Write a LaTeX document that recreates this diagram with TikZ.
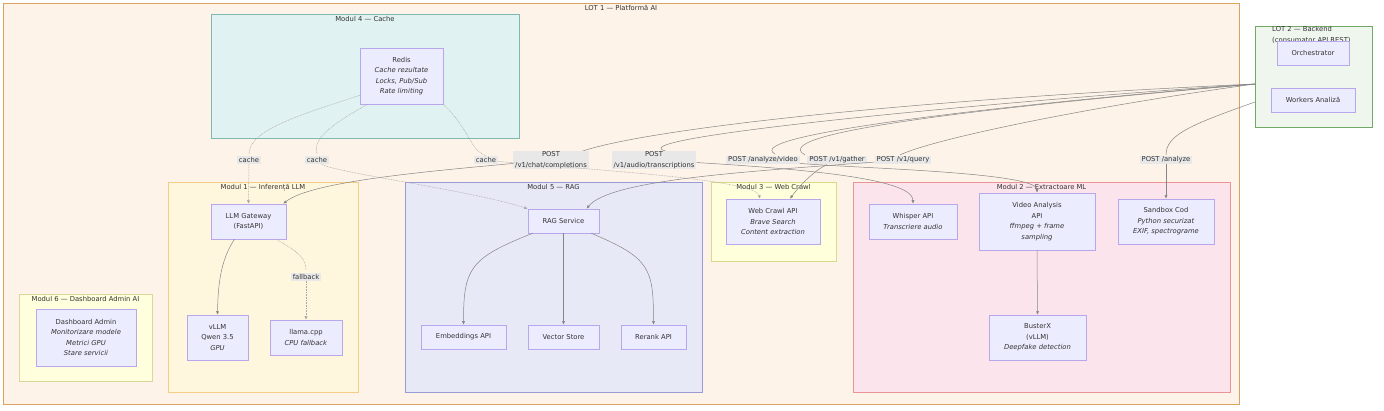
\documentclass[tikz,border=0pt]{standalone}
\usepackage{fontspec}
\setmainfont{DejaVu Sans}
\usepackage{xcolor}
\usetikzlibrary{arrows.meta}

\definecolor{txt}{HTML}{333333}
\definecolor{nodefill}{HTML}{ECECFF}
\definecolor{nodeline}{HTML}{B9A7EE}
\definecolor{lblfill}{HTML}{E8E8E8}
\definecolor{edgecol}{HTML}{858585}
\definecolor{dotcol}{HTML}{A8A8A8}
\definecolor{lotaline}{HTML}{D9A35F}\definecolor{lotafill}{HTML}{FDF3E8}
\definecolor{lotbline}{HTML}{72A866}\definecolor{lotbfill}{HTML}{EFF6EE}
\definecolor{cacheline}{HTML}{7DB9AF}\definecolor{cachefill}{HTML}{E0F2F1}
\definecolor{llmline}{HTML}{F6CD84}\definecolor{llmfill}{HTML}{FFF6DE}
\definecolor{adminline}{HTML}{D8D89A}\definecolor{adminfill}{HTML}{FFFFDE}
\definecolor{ragline}{HTML}{9A9AD6}\definecolor{ragfill}{HTML}{E8E9F6}
\definecolor{crawlline}{HTML}{D9D98A}\definecolor{crawlfill}{HTML}{FFFFDC}
\definecolor{mlline}{HTML}{E99595}\definecolor{mlfill}{HTML}{FCE4EC}

\tikzset{
  cluster/.style 2 args={draw=#1, fill=#2, line width=0.6pt, inner sep=0pt},
  ctitle/.style={anchor=north, inner sep=1pt},
  box/.style={draw=nodeline, fill=nodefill, line width=0.5pt, align=center, inner sep=1pt},
  lbl/.style={fill=lblfill, inner xsep=2pt, inner ysep=1pt, align=center},
  edge/.style={draw=edgecol, line width=0.5pt, -{Latex[length=3.5pt,width=3pt]}},
  link/.style={draw=edgecol, line width=0.5pt},
  dotedge/.style={edge, draw=dotcol, dash pattern=on 0.8pt off 0.8pt},
  dotlink/.style={link, draw=dotcol, dash pattern=on 0.8pt off 0.8pt}
}

\begin{document}
\begin{tikzpicture}[x=1pt, y=-1pt, font=\fontsize{6.8}{10.5}\selectfont, text=txt]
  \useasboundingbox (0,0) rectangle (1384,411);

  % groups
  \node[cluster={lotaline}{lotafill}, minimum width=1236pt, minimum height=401pt] (lot1) at (621,203.5) {};
  \node[ctitle] (lot1t) at ([yshift=-1pt]lot1.north) {LOT 1 — Platformă AI};
  \node[cluster={lotbline}{lotbfill}, minimum width=117pt, minimum height=101pt] (lot2) at (1313.5,76.5) {};
  \node[anchor=north west, inner sep=0pt, align=left, font=\fontsize{6.8}{11}\selectfont] (lot2t) at (1272,26.5) {LOT 2 — Backend\\(consumator API REST)};

  \node[cluster={cacheline}{cachefill}, minimum width=308pt, minimum height=124pt] (m4) at (365,76) {};
  \node[ctitle] (m4t) at ([yshift=-1pt]m4.north) {Modul 4 — Cache};
  \node[cluster={llmline}{llmfill}, minimum width=190pt, minimum height=210pt] (m1) at (263,287) {};
  \node[ctitle] (m1t) at ([yshift=-1pt]m1.north) {Modul 1 — Inferență LLM};
  \node[cluster={adminline}{adminfill}, minimum width=133pt, minimum height=87pt] (m6) at (85.5,337.5) {};
  \node[ctitle] (m6t) at ([yshift=-1pt]m6.north) {Modul 6 — Dashboard Admin AI};
  \node[cluster={ragline}{ragfill}, minimum width=297pt, minimum height=210pt] (m5) at (553.5,287) {};
  \node[ctitle] (m5t) at ([yshift=-1pt]m5.north) {Modul 5 — RAG};
  \node[cluster={crawlline}{crawlfill}, minimum width=125pt, minimum height=79pt] (m3) at (773.5,221.5) {};
  \node[ctitle] (m3t) at ([yshift=-1pt]m3.north) {Modul 3 — Web Crawl};
  \node[cluster={mlline}{mlfill}, minimum width=377pt, minimum height=210pt] (m2) at (1041.5,287) {};
  \node[ctitle] (m2t) at ([yshift=-1pt]m2.north) {Modul 2 — Extractoare ML};

  % services
  \node[box, minimum width=72pt, minimum height=24pt] (orch) at (1313,53) {Orchestrator};
  \node[box, minimum width=84pt, minimum height=24pt] (workers) at (1313,100) {Workers Analiză};
  \node[box, minimum width=83pt, minimum height=56pt] (redis) at (401.5,76) {Redis\\\textit{Cache rezultate}\\\textit{Locks, Pub/Sub}\\\textit{Rate limiting}};
  \node[box, minimum width=75pt, minimum height=35pt] (gw) at (248.5,221.5) {LLM Gateway\\(FastAPI)};
  \node[box, minimum width=61pt, minimum height=45pt] (vllm) at (217.5,337.5) {vLLM\\Qwen 3.5\\\textit{GPU}};
  \node[box, minimum width=72pt, minimum height=35pt] (llama) at (306,337.5) {llama.cpp\\\textit{CPU fallback}};
  \node[box, minimum width=100pt, minimum height=57pt] (dash) at (86,337.5) {Dashboard Admin\\\textit{Monitorizare modele}\\\textit{Metrici GPU}\\\textit{Stare servicii}};
  \node[box, minimum width=71pt, minimum height=24pt] (rag) at (563.5,221) {RAG Service};
  \node[box, minimum width=85pt, minimum height=24pt] (emb) at (463.5,337) {Embeddings API};
  \node[box, minimum width=71pt, minimum height=24pt] (vec) at (563.5,337) {Vector Store};
  \node[box, minimum width=65pt, minimum height=24pt] (rerank) at (653.5,337) {Rerank API};
  \node[box, minimum width=94pt, minimum height=45pt] (crawl) at (773,221.5) {Web Crawl API\\\textit{Brave Search}\\\textit{Content extraction}};
  \node[box, minimum width=88pt, minimum height=35pt] (whisper) at (913,221.5) {Whisper API\\\textit{Transcriere audio}};
  \node[box, minimum width=116pt, minimum height=57pt] (video) at (1037,221.5) {Video Analysis\\API\\\textit{ffmpeg + frame}\\\textit{sampling}};
  \node[box, minimum width=96pt, minimum height=45pt] (sandbox) at (1166,221.5) {Sandbox Cod\\\textit{Python securizat}\\\textit{EXIF, spectrograme}};
  \node[box, minimum width=97pt, minimum height=45pt] (buster) at (1037.5,337.5) {BusterX\\(vLLM)\\\textit{Deepfake detection}};

  \coordinate (orchout) at (1255,84);
  \coordinate (workout) at (1255,102);

  % backend calls
  \draw[link] (orchout) .. controls (900,100) and (640,130) .. (580,152);
  \draw[link] (orchout) .. controls (950,105) and (600,140) .. (670,152);
  \draw[link] (orchout) .. controls (1000,105) and (740,135) .. (775,154);
  \draw[link] (orchout) .. controls (1050,102) and (760,130) .. (805,155);
  \draw[link] (orchout) .. controls (1080,108) and (930,140) .. (900,155);
  \draw[link] (workout) .. controls (1190,125) and (1166,135) .. (1166,155);
  \node[lbl] (lchat) at (551,160) {POST\\/v1/chat/completions};
  \node[lbl] (laudio) at (654,160) {POST\\/v1/audio/transcriptions};
  \node[lbl] (lvideo) at (763,160) {POST /analyze/video};
  \node[lbl] (lgather) at (837,160) {POST /v1/gather};
  \node[lbl] (lquery) at (903,160) {POST /v1/query};
  \node[lbl] (lanalyze) at (1166,160) {POST /analyze};
  \draw[edge] (lchat) .. controls (420,172) and (310,182) .. ([xshift=-3pt]gw.north east);
  \draw[edge] (laudio) .. controls (820,170) and (913,180) .. (whisper.north);
  \draw[edge] (lvideo) .. controls (850,168) and (1037,172) .. (video.north);
  \draw[edge] (lgather) .. controls (815,170) and (800,185) .. ([xshift=17pt]crawl.north);
  \draw[edge] (lquery) .. controls (740,172) and (610,180) .. ([xshift=23pt]rag.north);
  \draw[edge] (lanalyze) -- (sandbox.north);

  % cache
  \draw[dotlink] ([yshift=9pt]redis.south west) .. controls (300,115) and (249,130) .. (249,154);
  \draw[dotlink] ([xshift=8pt]redis.south west) .. controls (330,125) and (312,140) .. (317,154);
  \draw[dotlink] (redis.south east) .. controls (470,130) and (470,150) .. (486,156);
  \node[lbl] (lc1) at (249,160) {cache};
  \node[lbl] (lc2) at (317,160) {cache};
  \node[lbl] (lc3) at (486,160) {cache};
  \draw[dotedge] (lc1) -- (gw.north);
  \draw[dotedge] (lc2) .. controls (330,172) and (470,190) .. (rag.north west);
  \draw[dotedge] (lc3) .. controls (560,168) and (755,178) .. ([xshift=-13pt]crawl.north);

  % inside modules
  \draw[edge] ([xshift=-14pt]gw.south) .. controls (222,258) and (218,280) .. (vllm.north);
  \draw[dotlink] ([xshift=-10pt]gw.south east) .. controls (298,252) and (306,258) .. (306,270);
  \node[lbl] (lfb) at (306,277) {fallback};
  \draw[dotedge] (lfb) -- (llama.north);
  \draw[edge] ([xshift=5pt]rag.south west) .. controls (470,258) and (463.5,268) .. (emb.north);
  \draw[edge] (rag.south) -- (vec.north);
  \draw[edge] ([xshift=-8pt]rag.south east) .. controls (650,258) and (653.5,268) .. (rerank.north);
  \draw[edge] (video.south) -- (buster.north);
\end{tikzpicture}
\end{document}
